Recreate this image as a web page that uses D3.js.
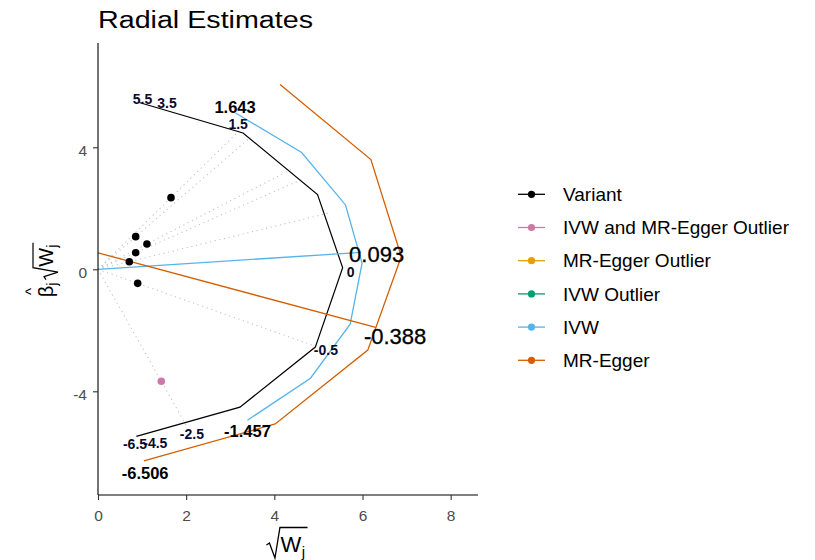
<!DOCTYPE html>
<html><head><meta charset="utf-8">
<script src="https://cdn.jsdelivr.net/npm/d3@7"></script>
<style>body{margin:0;background:#fff} svg{display:block}</style>
</head><body>
<script>
// ---- data ----
const variantX = [1.656, 0.855, 1.11, 0.855, 0.71, 0.90];
const variantY = [2.35, 1.07, 0.83, 0.545, 0.25, -0.46];
const outlierX = [1.436];
const outlierY = [-3.67];

const scaleRadius = 5.55;
const scaleArcX = [0.935, 3.29, 4.98, 5.55, 4.93, 3.22, 0.87];
const scaleArcY = [5.47, 4.47, 2.45, 0.05, -2.55, -4.52, -5.48];
const scaleLabels = ["5.5", "3.5", "1.5", "0", "-0.5", "-2.5", "-4.5", "-6.5"];
const scaleLabelX = [1.01, 1.565, 3.18, 5.73, 5.17, 2.13, 1.30, 0.84];
const scaleLabelY = [5.57, 5.46, 4.76, -0.10, -2.65, -5.41, -5.70, -5.72];

const ivwEstimate = 0.093;
const ivwLineEndX = 5.97;
const ivwArcX = [3.12, 4.62, 5.615, 5.99, 5.72, 4.82, 3.39];
const ivwArcY = [5.125, 3.83, 2.11, 0.2, -1.80, -3.57, -4.95];

const eggerEstimate = -0.388;
const eggerIntercept = 0.54;
const eggerLineEndX = 6.3;
const eggerArcX = [4.13, 6.19, 6.88, 6.12, 4.02, 1.04];
const eggerArcY = [6.06, 3.60, 0.42, -2.65, -5.07, -6.28];

const ciLabels = ["1.643", "-1.457", "-6.506"];
const ciLabelX = [3.11, 3.39, 1.07];
const ciLabelY = [5.33, -5.29, -6.67];
const estLabels = ["0.093", "-0.388"];
const estLabelX = [6.32, 6.74];
const estLabelY = [0.51, -2.20];

const xTicks = [0, 2, 4, 6, 8];
const yTicks = [-4, 0, 4];

const legendLabels = ["Variant", "IVW and MR-Egger Outlier", "MR-Egger Outlier", "IVW Outlier", "IVW", "MR-Egger"];
const legendColors = ["#000000", "#CC79A7", "#E69F00", "#009E73", "#56B4E9", "#D55E00"];

// ---- drawing ----
const W = 815, H = 560;
const FONT = "'Liberation Sans', Arial, Helvetica, sans-serif";
const svg = d3.select("body").append("svg").attr("width", W).attr("height", H)
  .style("font-family", FONT);

const x = d3.scaleLinear().domain([0, 8.62]).range([98, 478]);
const y = d3.scaleLinear().domain([-7.40, 7.42]).range([495, 43]);

svg.append("defs").append("clipPath").attr("id", "panel")
  .append("rect").attr("x", 98).attr("y", 43).attr("width", 380).attr("height", 452);

const g = svg.append("g").attr("clip-path", "url(#panel)");

// dotted rays from origin through each variant to the scale circle
const allX = variantX.concat(outlierX), allY = variantY.concat(outlierY);
allX.forEach((vx, i) => {
  const th = Math.atan2(allY[i], vx);
  g.append("line")
    .attr("x1", x(0)).attr("y1", y(0))
    .attr("x2", x(scaleRadius * Math.cos(th))).attr("y2", y(scaleRadius * Math.sin(th)))
    .attr("stroke", "#c4c4c4").attr("stroke-width", 1.1).attr("stroke-dasharray", "1.2,3.6");
});

const line = d3.line().x(d => x(d[0])).y(d => y(d[1]));

// scale circle
g.append("path").datum(scaleArcX.map((v, i) => [v, scaleArcY[i]]))
  .attr("d", line).attr("fill", "none").attr("stroke", "#000").attr("stroke-width", 1.2);
// IVW CI arc
g.append("path").datum(ivwArcX.map((v, i) => [v, ivwArcY[i]]))
  .attr("d", line).attr("fill", "none").attr("stroke", "#56B4E9").attr("stroke-width", 1.3);
// Egger CI arc
g.append("path").datum(eggerArcX.map((v, i) => [v, eggerArcY[i]]))
  .attr("d", line).attr("fill", "none").attr("stroke", "#D55E00").attr("stroke-width", 1.3);

// IVW estimate line
g.append("path").datum([[0, 0], [ivwLineEndX, ivwEstimate * ivwLineEndX]])
  .attr("d", line).attr("fill", "none").attr("stroke", "#56B4E9").attr("stroke-width", 1.3);
// Egger estimate line
g.append("path").datum([[0, eggerIntercept], [eggerLineEndX, eggerIntercept + eggerEstimate * eggerLineEndX]])
  .attr("d", line).attr("fill", "none").attr("stroke", "#D55E00").attr("stroke-width", 1.3);

// points
g.selectAll("circle.v").data(variantX.map((v, i) => [v, variantY[i]])).enter()
  .append("circle").attr("cx", d => x(d[0])).attr("cy", d => y(d[1])).attr("r", 3.8).attr("fill", "#000");
g.selectAll("circle.o").data(outlierX.map((v, i) => [v, outlierY[i]])).enter()
  .append("circle").attr("cx", d => x(d[0])).attr("cy", d => y(d[1])).attr("r", 3.8).attr("fill", "#CC79A7");

// labels
const lab = svg.append("g");
scaleLabels.forEach((t, i) => {
  lab.append("text").attr("x", x(scaleLabelX[i])).attr("y", y(scaleLabelY[i])).attr("dy", "0.36em")
    .attr("text-anchor", "middle").attr("font-size", 14).attr("font-weight", "bold").attr("fill", "#0a0a2a").text(t);
});
ciLabels.forEach((t, i) => {
  lab.append("text").attr("x", x(ciLabelX[i])).attr("y", y(ciLabelY[i])).attr("dy", "0.36em")
    .attr("text-anchor", "middle").attr("font-size", 16.5).attr("font-weight", "bold").attr("fill", "#000").text(t);
});
estLabels.forEach((t, i) => {
  lab.append("text").attr("x", x(estLabelX[i])).attr("y", y(estLabelY[i])).attr("dy", "0.36em")
    .attr("text-anchor", "middle").attr("font-size", 22).attr("fill", "#000")
    .attr("stroke", "#000").attr("stroke-width", 0.3).text(t);
});

// axes
const xAxis = svg.append("g").attr("transform", "translate(0,495)")
  .call(d3.axisBottom(x).tickValues(xTicks).tickSize(5).tickSizeOuter(0).tickPadding(10).tickFormat(d3.format("d")));
const yAxis = svg.append("g").attr("transform", "translate(98,0)")
  .call(d3.axisLeft(y).tickValues(yTicks).tickSize(5).tickSizeOuter(0).tickPadding(6).tickFormat(d => d < 0 ? "-" + Math.abs(d) : d));
[xAxis, yAxis].forEach(a => {
  a.select(".domain").attr("stroke", "#000").attr("stroke-width", 1.1);
  a.selectAll(".tick line").attr("stroke", "#333").attr("stroke-width", 1.1);
  a.selectAll(".tick text").attr("fill", "#4d4d4d").attr("font-size", 15.5).attr("font-family", FONT);
});
yAxis.selectAll(".tick text").attr("dy", "0.5em");
yAxis.select(".domain").attr("d", "M0,43V495");
xAxis.select(".domain").attr("d", "M98,0H478");

// x-axis title: sqrt(W_j)
(function () {
  const t = svg.append("g");
  const wTxt = t.append("text").attr("font-size", 22).attr("fill", "#000").text("W");
  const jTxt = t.append("text").attr("font-size", 15).attr("fill", "#000").text("j");
  const ww = wTxt.node().getComputedTextLength(), jw = jTxt.node().getComputedTextLength();
  const total = 14 + ww + jw + 3;
  const x0 = 287 - total / 2;
  const wx = x0 + 14;
  wTxt.attr("x", wx).attr("y", 552);
  jTxt.attr("x", wx + ww + 0.5).attr("y", 557);
  t.append("path").attr("d", `M${x0},545 L${x0 + 3},543 L${x0 + 8.5},558 L${x0 + 13.5},527.5 L${x0 + total},527.5`)
    .attr("fill", "none").attr("stroke", "#000").attr("stroke-width", 1.3);
})();

// y-axis title: hat(beta)_j sqrt(W_j)
(function () {
  const t = svg.append("g").attr("transform", "translate(53,270) rotate(-90)");
  const b = t.append("text").attr("font-size", 20).attr("fill", "#000").text("β");
  const bj = t.append("text").attr("font-size", 14).attr("fill", "#000").text("j");
  const wT = t.append("text").attr("font-size", 20).attr("fill", "#000").text("W");
  const wj = t.append("text").attr("font-size", 14).attr("fill", "#000").text("j");
  const bw = b.node().getComputedTextLength(), bjw = bj.node().getComputedTextLength();
  const ww = wT.node().getComputedTextLength(), wjw = wj.node().getComputedTextLength();
  const total = bw + bjw + 3 + 13 + ww + wjw + 2;
  let u = -total / 2;
  b.attr("x", u).attr("y", 0);
  t.append("text").attr("font-size", 15).attr("fill", "#000").attr("text-anchor", "middle")
    .attr("x", u + bw / 2).attr("y", -17).text("^");
  u += bw;
  bj.attr("x", u).attr("y", 4);
  u += bjw + 3;
  const r0 = u;
  u += 13;
  wT.attr("x", u).attr("y", 0);
  u += ww;
  wj.attr("x", u).attr("y", 4);
  u += wjw + 2;
  t.append("path").attr("d", `M${r0},-7 L${r0 + 3},-9 L${r0 + 7.5},5 L${r0 + 12},-20 L${u},-20`)
    .attr("fill", "none").attr("stroke", "#000").attr("stroke-width", 1.2);
})();

// title
svg.append("text").attr("x", 98).attr("y", 28).attr("font-size", 23).attr("fill", "#000")
  .attr("textLength", 215).attr("lengthAdjust", "spacingAndGlyphs").text("Radial Estimates");

// legend
const leg = svg.append("g");
legendLabels.forEach((t, i) => {
  const cy = 194.3 + i * 33.2;
  leg.append("line").attr("x1", 518).attr("x2", 545).attr("y1", cy).attr("y2", cy)
    .attr("stroke", legendColors[i]).attr("stroke-width", 1.3);
  leg.append("circle").attr("cx", 531.5).attr("cy", cy).attr("r", 3.6).attr("fill", legendColors[i]);
  leg.append("text").attr("x", 563).attr("y", cy + 6.6).attr("font-size", 19).attr("fill", "#000").text(t);
});
</script>
</body></html>
